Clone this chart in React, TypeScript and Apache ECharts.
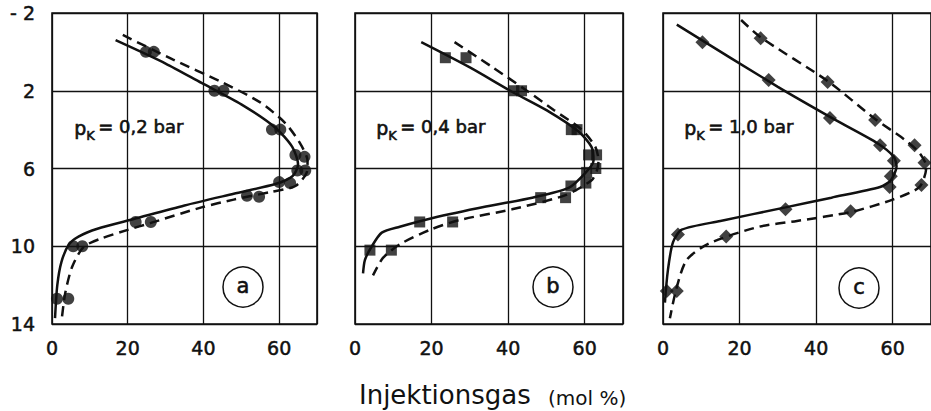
import React, { useEffect, useRef } from "react";
import * as echarts from "echarts";

const FONT = "DejaVu Sans";
const INK = "#111111";

// axis settings
const xMin = 0;
const xMax = 70;
const xStep = 20;
const yMin = -2;
const yMax = 14;
const yStep = 4;

const panelLetters = ["a", "b", "c"];
const pressureTexts = ["= 0,2 bar", "= 0,4 bar", "= 1,0 bar"];
const markerSymbols = ["circle", "rect", "diamond"];
const markerSizes = [12, 11, 14];
const axisTitle = "Injektionsgas";
const axisUnit = "(mol %)";

// Panel a (p_K = 0,2 bar)
const aSolidMarks = [[24.8, 0.0], [42.9, 2.0], [58.1, 4.0], [64.3, 5.3], [64.8, 6.1], [60.0, 6.7], [51.5, 7.4], [22.1, 8.75], [5.6, 10.0], [1.3, 12.7]];
const aDashedMarks = [[26.9, 0.0], [45.3, 2.0], [60.3, 4.0], [66.7, 5.4], [66.9, 6.1], [62.9, 6.75], [54.7, 7.45], [26.1, 8.75], [8.0, 10.0], [4.3, 12.7]];
const aSolidCurve = [[16.8, -0.6], [30, 0.6], [39.5, 1.6], [50, 2.7], [59, 3.9], [63.5, 4.9], [65, 5.8], [63.5, 6.4], [59, 6.8], [48, 7.3], [35, 7.9], [21.6, 8.6], [12, 9.1], [7, 9.5], [4.5, 9.9], [2.5, 10.8], [1.4, 12.0], [0.8, 13.7]];
const aDashedCurve = [[18.7, -0.87], [32, 0.4], [44.8, 1.55], [55, 2.6], [61.6, 3.66], [65.5, 4.7], [67.5, 5.6], [67.3, 6.2], [64.3, 6.9], [58, 7.2], [48, 7.6], [39.5, 8.0], [26.1, 8.8], [20, 9.16], [13, 9.6], [8.3, 10.04], [5.3, 11.07], [3.5, 12.4], [2.6, 13.7]];

// Panel b (p_K = 0,4 bar)
const bSolidMarks = [[23.6, 0.3], [41.5, 2.0], [56.5, 4.0], [61.0, 5.3], [60.5, 6.2], [56.4, 6.9], [48.5, 7.5], [16.9, 8.75], [3.9, 10.2]];
const bDashedMarks = [[29.0, 0.3], [43.5, 2.0], [58.0, 4.0], [63.1, 5.3], [62.9, 6.0], [60.3, 6.75], [55.0, 7.5], [25.5, 8.75], [9.5, 10.2]];
const bSolidCurve = [[17.3, -0.5], [30, 0.8], [41, 2.05], [50, 3.0], [58.4, 4.1], [61.8, 4.9], [62.3, 5.6], [60.3, 6.2], [55.8, 7.0], [46.3, 7.5], [34.2, 7.96], [20.3, 8.55], [11.7, 9.0], [7, 9.3], [4.4, 10.0], [2.6, 10.7], [2.1, 11.4]];
const bDashedCurve = [[26, -0.5], [36, 0.8], [44.6, 1.96], [52, 3.0], [59.2, 4.0], [62.8, 4.9], [63.6, 5.6], [63.2, 6.1], [61.8, 6.6], [55, 7.37], [41, 8.1], [27.3, 8.65], [19.5, 9.16], [11.7, 9.9], [7.3, 10.6], [4.7, 11.5]];

// Panel c (p_K = 1,0 bar)
const cSolidMarks = [[10.3, -0.5], [27.6, 1.45], [43.6, 3.4], [56.7, 4.8], [60.3, 5.6], [59.5, 6.4], [59.2, 6.95], [32.0, 8.1], [3.9, 9.4], [1.0, 12.3]];
const cDashedMarks = [[25.5, -0.7], [43.0, 1.55], [55.4, 3.5], [65.7, 4.8], [68.3, 5.7], [67.5, 6.85], [49.0, 8.2], [16.5, 9.5], [3.6, 12.3]];
const cSolidCurve = [[3.6, -1.4], [30, 1.8], [45, 3.5], [56, 4.7], [60.3, 5.4], [61, 5.9], [59.5, 6.6], [56.7, 6.95], [44, 7.5], [32, 8.0], [15, 8.7], [4.9, 9.15], [2.6, 9.8], [1.3, 11.2], [0.5, 12.9]];
const cDashedCurve = [[20.4, -1.64], [25.5, -0.75], [43, 1.5], [55.4, 3.45], [63, 4.5], [67, 5.2], [68.8, 5.9], [67, 6.95], [60, 7.6], [49, 8.24], [35, 8.7], [25, 9.0], [12.1, 9.85], [6.2, 10.7], [3.6, 12.1], [1.8, 13.7]];

const solidMarks = [aSolidMarks, bSolidMarks, cSolidMarks];
const dashedMarks = [aDashedMarks, bDashedMarks, cDashedMarks];
const solidCurves = [aSolidCurve, bSolidCurve, cSolidCurve];
const dashedCurves = [aDashedCurve, bDashedCurve, cDashedCurve];

const gridBoxes = [
  { left: 52, top: 13, width: 265, height: 311 },
  { left: 355, top: 13, width: 268, height: 311 },
  { left: 663, top: 13, width: 272, height: 311 },
];
const pTextX = [74, 376, 684];
const circleCenters = [[243, 287], [553, 287], [859, 288]];

export default function App() {
  const ref = useRef<HTMLDivElement>(null);
  useEffect(() => {
    if (!ref.current) return;
    const chart = echarts.init(ref.current, undefined, { renderer: "svg" });
    const series: any[] = [];
    for (let i = 0; i < 3; i++) {
      series.push({
        type: "line", xAxisIndex: i, yAxisIndex: i, data: solidCurves[i],
        smooth: 0.25, showSymbol: false, symbol: "none",
        lineStyle: { color: INK, width: 2.5, type: "solid" }, z: 3,
      });
      series.push({
        type: "line", xAxisIndex: i, yAxisIndex: i, data: dashedCurves[i],
        smooth: 0.25, showSymbol: false, symbol: "none",
        lineStyle: { color: INK, width: 2.5, type: [10, 6] }, z: 3,
      });
      series.push({
        type: "scatter", xAxisIndex: i, yAxisIndex: i, data: solidMarks[i],
        symbol: markerSymbols[i], symbolSize: markerSizes[i],
        itemStyle: { color: INK }, z: 4,
      });
      series.push({
        type: "scatter", xAxisIndex: i, yAxisIndex: i, data: dashedMarks[i],
        symbol: markerSymbols[i], symbolSize: markerSizes[i],
        itemStyle: { color: INK }, z: 4,
      });
    }
    const thick = { stroke: INK, lineWidth: 0.6 };
    const graphic: any[] = [];
    for (let i = 0; i < 3; i++) {
      graphic.push({ type: "text", left: pTextX[i], top: 118, style: { text: "p", font: `19px "${FONT}"`, fill: INK, ...thick } });
      graphic.push({ type: "text", left: pTextX[i] + 12, top: 129, style: { text: "K", font: `13px "${FONT}"`, fill: INK, ...thick } });
      graphic.push({ type: "text", left: pTextX[i] + 24, top: 117, style: { text: pressureTexts[i], font: `18px "${FONT}"`, fill: INK, ...thick } });
      graphic.push({
        type: "circle", shape: { cx: circleCenters[i][0], cy: circleCenters[i][1], r: 20 },
        style: { fill: "none", stroke: INK, lineWidth: 1.5 },
      });
      graphic.push({
        type: "text", x: circleCenters[i][0], y: circleCenters[i][1] - 1,
        style: { text: panelLetters[i], font: `21px "${FONT}"`, fill: INK, align: "center", verticalAlign: "middle", ...thick },
      });
    }
    graphic.push({
      type: "text", x: 359, y: 395,
      style: { text: axisTitle, font: `26px "${FONT}"`, fill: INK, align: "left", verticalAlign: "middle" },
    });
    graphic.push({
      type: "text", x: 548, y: 398,
      style: { text: axisUnit, font: `20px "${FONT}"`, fill: INK, align: "left", verticalAlign: "middle" },
    });

    const labelStyle = { fontSize: 19, color: INK, fontFamily: FONT, textBorderColor: INK, textBorderWidth: 0.5 };
    chart.setOption({
      animation: false,
      backgroundColor: "#ffffff",
      grid: gridBoxes.map((g) => ({ ...g, show: true, borderColor: INK, borderWidth: 1.6, containLabel: false })),
      xAxis: gridBoxes.map((_, i) => ({
        type: "value", gridIndex: i, min: xMin, max: xMax, interval: xStep,
        axisLine: { show: false }, axisTick: { show: false },
        splitLine: { show: true, lineStyle: { color: INK, width: 1.3 } },
        axisLabel: { showMaxLabel: false, margin: 14, ...labelStyle },
      })),
      yAxis: gridBoxes.map((_, i) => ({
        type: "value", gridIndex: i, inverse: true, min: yMin, max: yMax, interval: yStep,
        axisLine: { show: false }, axisTick: { show: false },
        splitLine: { show: true, lineStyle: { color: INK, width: 1.3 } },
        axisLabel: {
          show: i === 0, margin: 17, ...labelStyle,
          formatter: (v: number) => (v < 0 ? "- " + Math.abs(v) : String(v)),
        },
      })),
      series,
      graphic,
    });
    return () => chart.dispose();
  }, []);
  return <div ref={ref} style={{ position: "fixed", left: 0, top: 0, width: 931, height: 411, background: "#fff" }} />;
}
